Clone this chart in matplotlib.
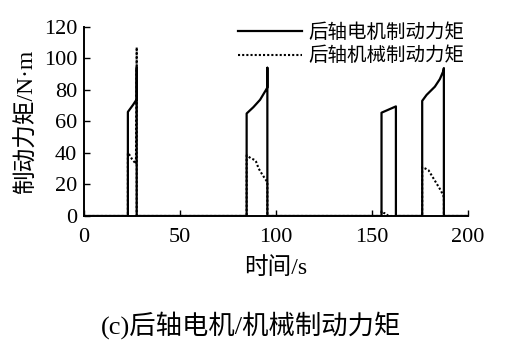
import matplotlib.pyplot as plt

plt.rcParams['font.family'] = ['Liberation Serif', 'Noto Sans CJK SC']

# rear-axle motor braking torque (time s, torque N*m)
t_motor = [0, 22.8, 22.8, 24.0, 25.5, 27.4, 27.4, 27.4,
           84.7, 84.7, 88.2, 91.7, 94.8, 95.5, 95.5, 95.5,
           155.0, 155.0, 162.5, 162.5,
           176.2, 176.2, 178.5, 182.8, 185.4, 187.1, 187.5, 187.5, 200]
T_motor = [0, 0, 66, 68, 70.5, 74, 94, 0,
           0, 65, 69, 73.7, 80, 81.5, 94, 0,
           0, 65.5, 69.5, 0,
           0, 73, 76.8, 82, 86.8, 91.6, 93.8, 0, 0]

# rear-axle mechanical braking torque
t_mech = [0, 22.8, 22.8, 23.5, 25.0, 27.0, 27.4, 27.4,
          84.7, 84.7, 87.0, 89.0, 89.6, 91.0, 93.0, 95.5, 95.5,
          155.0, 155.0, 156.0, 157.5, 158.5,
          176.2, 176.2, 178.0, 179.5, 181.0, 183.0, 186.0, 187.5, 187.5, 200]
T_mech = [0, 0, 40, 39, 36, 33, 107, 0,
          0, 38.5, 36.5, 35.5, 34.5, 30, 26, 21.5, 0,
          0, 3, 2, 1.5, 0,
          0, 31, 30, 29, 26, 22, 16, 12, 0, 0]

fig = plt.figure(figsize=(5.13, 3.57), dpi=100)
ax = fig.add_axes([0.164, 0.395, 0.748, 0.53])

ax.plot(t_motor, T_motor, color='black', lw=1.6, label='后轴电机制动力矩')
ax.plot(t_mech, T_mech, color='black', lw=1.5, ls=(0, (1, 1)), label='后轴机械制动力矩')

ax.set_xlim(0, 200)
ax.set_ylim(0, 120)
ax.set_xticks([0, 50, 100, 150, 200])
ax.set_yticks(range(0, 121, 20))
for tick in ax.yaxis.get_major_ticks():
    if tick.get_loc() % 40 != 0:
        tick.tick1line.set_visible(False)
ax.tick_params(direction='in', length=4, width=1, labelsize=16)
ax.tick_params(axis='x', pad=9)
ax.tick_params(axis='y', pad=5)

for s in ['top', 'right']:
    ax.spines[s].set_visible(False)
for s in ['left', 'bottom']:
    ax.spines[s].set_linewidth(1.4)

ax.set_xlabel('时间/s', fontsize=17, labelpad=7)
ax.set_ylabel('制动力矩/N·m', fontsize=17, labelpad=4)

ax.legend(loc='upper right', frameon=False, fontsize=14, handlelength=3.3,
          borderaxespad=0, bbox_to_anchor=(1.01, 1.06), labelspacing=0.25,
          handletextpad=0.3)

fig.text(0.49, 0.09, '(c)后轴电机/机械制动力矩', ha='center', va='center', fontsize=19)

fig.savefig('out.png', dpi=100)
